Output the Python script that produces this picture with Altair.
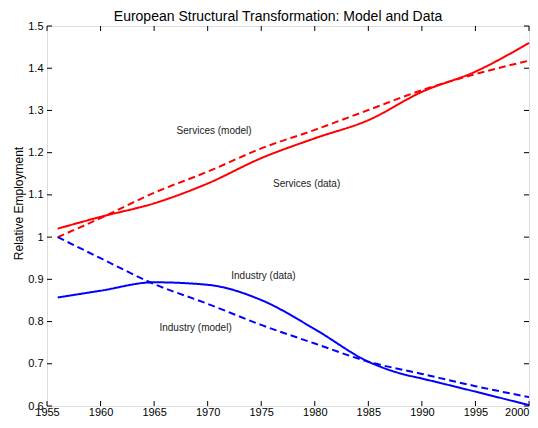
import altair as alt
import pandas as pd

years = [1956, 1960, 1965, 1970, 1975, 1980, 1985, 1990, 1995, 2000]
services_data = [1.020, 1.048, 1.080, 1.127, 1.187, 1.234, 1.277, 1.344, 1.392, 1.460]
services_model = [1.000, 1.045, 1.105, 1.155, 1.210, 1.254, 1.301, 1.348, 1.386, 1.418]
industry_data_years = [1956, 1960, 1965, 1970, 1975, 1980, 1985, 1988, 1990, 1995, 2000]
industry_data = [0.857, 0.873, 0.893, 0.887, 0.851, 0.782, 0.705, 0.677, 0.665, 0.634, 0.602]
industry_model_years = [1956, 1960, 1965, 1970, 1975, 1980, 1985, 1990, 1995, 2000]
industry_model = [1.000, 0.950, 0.889, 0.842, 0.792, 0.748, 0.705, 0.676, 0.647, 0.621]

series_names = ["Services (data)", "Services (model)", "Industry (data)", "Industry (model)"]
series_colors = ["#ff0000", "#ff0000", "#0000ff", "#0000ff"]
series_dash = [[1, 0], [7, 4], [1, 0], [7, 4]]

label_text = ["Services (model)", "Services (data)", "Industry (data)", "Industry (model)"]
label_x = [1967.1, 1976.1, 1972.2, 1965.5]
label_y = [1.251, 1.126, 0.909, 0.784]

x_ticks = [1955, 1960, 1965, 1970, 1975, 1980, 1985, 1990, 1995, 2000]
y_ticks = [0.6, 0.7, 0.8, 0.9, 1.0, 1.1, 1.2, 1.3, 1.4, 1.5]

rows = []
for y, v in zip(years, services_data):
    rows.append({"year": y, "value": v, "series": series_names[0]})
for y, v in zip(years, services_model):
    rows.append({"year": y, "value": v, "series": series_names[1]})
for y, v in zip(industry_data_years, industry_data):
    rows.append({"year": y, "value": v, "series": series_names[2]})
for y, v in zip(industry_model_years, industry_model):
    rows.append({"year": y, "value": v, "series": series_names[3]})
df = pd.DataFrame(rows)

labels_df = pd.DataFrame({"text": label_text, "x": label_x, "y": label_y})
xt_df = pd.DataFrame({"t": x_ticks})
yt_df = pd.DataFrame({"v": y_ticks})

FONT = "Liberation Sans"
W, H = 482, 380
TICK = 5

xscale = alt.Scale(domain=[1955, 2000], nice=False, zero=False)
yscale = alt.Scale(domain=[0.6, 1.5], nice=False, zero=False)

xaxis = alt.Axis(values=x_ticks, format="d", ticks=False, domain=False, grid=False,
                 title=None, labelFontSize=11, labelPadding=0, labelFont=FONT,
                 labelColor="black",
                 labelAlign={"condition": {"test": "datum.value == 2000", "value": "right"},
                             "value": "center"})
yaxis = alt.Axis(values=y_ticks, format="~g", ticks=False, domain=False, grid=False,
                 title="Relative Employment", titleFont=FONT, titleFontSize=12,
                 titleFontWeight="normal", titleColor="black",
                 titleAngle=-90, titleX=-25, titleY=177, titleAlign="center",
                 titleBaseline="alphabetic",
                 labelFontSize=11, labelPadding=4, labelFont=FONT, labelColor="black")

lines = alt.Chart(df).mark_line(strokeWidth=2, interpolate="monotone").encode(
    x=alt.X("year:Q", scale=xscale, axis=xaxis),
    y=alt.Y("value:Q", scale=yscale, axis=yaxis),
    color=alt.Color("series:N", scale=alt.Scale(domain=series_names, range=series_colors), legend=None),
    strokeDash=alt.StrokeDash("series:N", scale=alt.Scale(domain=series_names, range=series_dash), legend=None),
    detail="series:N",
)

texts = alt.Chart(labels_df).mark_text(align="left", baseline="middle", font=FONT,
                                        fontSize=10, color="#222222").encode(
    x=alt.X("x:Q", scale=xscale),
    y=alt.Y("y:Q", scale=yscale),
    text="text:N",
)

tick_bottom = alt.Chart(xt_df).mark_rule(color="black", strokeWidth=1).encode(
    x=alt.X("t:Q", scale=xscale), y=alt.value(H), y2=alt.value(H - TICK))
tick_top = alt.Chart(xt_df).mark_rule(color="black", strokeWidth=1).encode(
    x=alt.X("t:Q", scale=xscale), y=alt.value(0), y2=alt.value(TICK))
tick_left = alt.Chart(yt_df).mark_rule(color="black", strokeWidth=1).encode(
    y=alt.Y("v:Q", scale=yscale), x=alt.value(0), x2=alt.value(TICK))
tick_right = alt.Chart(yt_df).mark_rule(color="black", strokeWidth=1).encode(
    y=alt.Y("v:Q", scale=yscale), x=alt.value(W - TICK), x2=alt.value(W))

chart = alt.layer(tick_bottom, tick_top, tick_left, tick_right, lines, texts).properties(
    width=W, height=H,
    autosize=alt.AutoSizeParams(type="none"),
    padding={"left": 39, "top": 18, "right": 1, "bottom": 12},
    title=alt.TitleParams("European Structural Transformation: Model and Data",
                          font=FONT, fontSize=14, fontWeight="normal", color="black",
                          anchor="middle", dx=-10, baseline="alphabetic", offset=-15),
).configure_view(stroke="black", strokeWidth=1).configure(background="white")

chart.save("out.html", embed_options={"renderer": "svg", "actions": False})
